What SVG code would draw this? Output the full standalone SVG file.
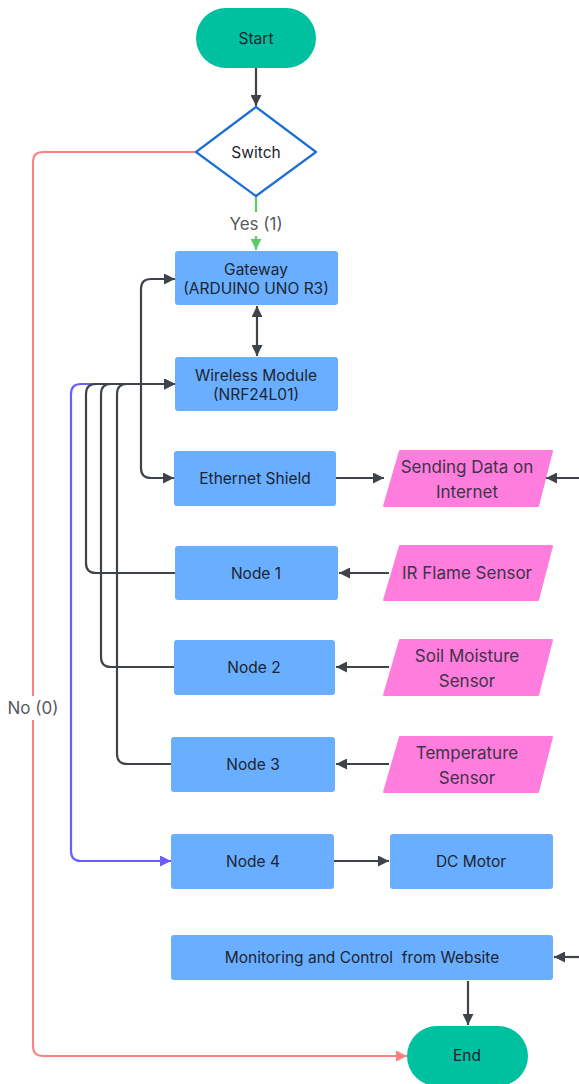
<svg xmlns="http://www.w3.org/2000/svg" width="579" height="1084" viewBox="0 0 579 1084">
<style>
.t{font-family:Inter,"Liberation Sans",sans-serif;font-size:15.5px;fill:#1c2530;text-anchor:middle}
.p{font-family:Inter,"Liberation Sans",sans-serif;font-size:17px;fill:#3d3349;text-anchor:middle}
.lb{font-family:Inter,"Liberation Sans",sans-serif;font-size:17px;fill:#555b63;text-anchor:middle}
.box{fill:#69AEFF}
.para{fill:#FF7DDC}
.term{fill:#00C19F}
.c{fill:none;stroke:#3f444b;stroke-width:2.2}
</style>
<defs>
<marker id="a" viewBox="0 0 10 10" refX="10" refY="5" markerWidth="11" markerHeight="11" markerUnits="userSpaceOnUse" orient="auto-start-reverse"><path d="M0,0L10,5L0,10z" fill="#3f444b"/></marker>
<marker id="ag" viewBox="0 0 10 10" refX="10" refY="5" markerWidth="11" markerHeight="11" markerUnits="userSpaceOnUse" orient="auto"><path d="M0,0L10,5L0,10z" fill="#5DCB6A"/></marker>
<marker id="ar" viewBox="0 0 10 10" refX="10" refY="5" markerWidth="11" markerHeight="11" markerUnits="userSpaceOnUse" orient="auto"><path d="M0,0L10,5L0,10z" fill="#FF8080"/></marker>
<marker id="ap" viewBox="0 0 10 10" refX="10" refY="5" markerWidth="11" markerHeight="11" markerUnits="userSpaceOnUse" orient="auto"><path d="M0,0L10,5L0,10z" fill="#6B5CFF"/></marker>
</defs>
<rect width="579" height="1084" fill="#ffffff"/>
<g id="connectors">
<path class="c" d="M256,68V106" marker-end="url(#a)"/>
<path d="M256,196V250" fill="none" stroke="#5DCB6A" stroke-width="2.2" marker-end="url(#ag)"/>
<rect x="224" y="212" width="64" height="24" fill="#ffffff"/>
<text class="lb" x="256" y="230">Yes (1)</text>
<path d="M196,152H43Q33,152 33,162V1046Q33,1056 43,1056H407" fill="none" stroke="#FF8080" stroke-width="2" marker-end="url(#ar)"/>
<rect x="3" y="696" width="60" height="24" fill="#ffffff"/>
<text class="lb" x="33" y="714">No (0)</text>
<path class="c" d="M257,306V356" marker-start="url(#a)" marker-end="url(#a)"/>
<path class="c" d="M175,279H151Q141,279 141,289V468Q141,478 151,478H174" marker-start="url(#a)" marker-end="url(#a)"/>
<path d="M95,384H81Q71,384 71,394V851Q71,861 81,861H171" fill="none" stroke="#6B5CFF" stroke-width="2.2" marker-end="url(#ap)"/>
<path class="c" d="M175,573H96Q86,573 86,563V394Q86,384 96,384H175" marker-end="url(#a)"/>
<path class="c" d="M174,667H111Q101,667 101,657V394Q101,384 111,384H175" marker-end="url(#a)"/>
<path class="c" d="M171,764H127Q117,764 117,754V394Q117,384 127,384H175" marker-end="url(#a)"/>
<path class="c" d="M336,478H384" marker-end="url(#a)"/>
<path class="c" d="M579,478H546" marker-end="url(#a)"/>
<path class="c" d="M389,573H339" marker-end="url(#a)"/>
<path class="c" d="M389,667H336" marker-end="url(#a)"/>
<path class="c" d="M389,764H336" marker-end="url(#a)"/>
<path class="c" d="M333,861H389" marker-end="url(#a)"/>
<path class="c" d="M579,957H554" marker-end="url(#a)"/>
<path class="c" d="M468,981V1025" marker-end="url(#a)"/>
</g>
<g id="start"><rect class="term" x="196" y="8" width="120" height="60" rx="30"/><text class="t" x="256" y="44">Start</text></g>
<g id="switch"><path d="M256,107L316,152L256,196L196,152Z" fill="#ffffff" stroke="#1E6FD9" stroke-width="2.2" stroke-linejoin="round"/><text class="t" x="256" y="158">Switch</text></g>
<g id="gateway"><rect class="box" x="175" y="251" width="163" height="54" rx="3"/><text class="t" x="256" y="275">Gateway</text><text class="t" x="256" y="294">(ARDUINO UNO R3)</text></g>
<g id="wireless"><rect class="box" x="175" y="357" width="163" height="54" rx="3"/><text class="t" x="256" y="381">Wireless Module</text><text class="t" x="256" y="400">(NRF24L01)</text></g>
<g id="ethernet"><rect class="box" x="174" y="451" width="162" height="55" rx="3"/><text class="t" x="255" y="484">Ethernet Shield</text></g>
<g id="sending"><path class="para" d="M400,451H552L538,506H384Z" stroke="#FF7DDC" stroke-width="2" stroke-linejoin="round"/><text class="p" x="467" y="473">Sending Data on</text><text class="p" x="467" y="498">Internet</text></g>
<g id="node1"><rect class="box" x="175" y="546" width="163" height="54" rx="3"/><text class="t" x="256" y="579">Node 1</text></g>
<g id="irflame"><path class="para" d="M400,546H552L538,600H384Z" stroke="#FF7DDC" stroke-width="2" stroke-linejoin="round"/><text class="p" x="467" y="579">IR Flame Sensor</text></g>
<g id="node2"><rect class="box" x="174" y="640" width="161" height="55" rx="3"/><text class="t" x="254" y="673">Node 2</text></g>
<g id="soil"><path class="para" d="M400,640H552L538,695H384Z" stroke="#FF7DDC" stroke-width="2" stroke-linejoin="round"/><text class="p" x="467" y="662">Soil Moisture</text><text class="p" x="467" y="687">Sensor</text></g>
<g id="node3"><rect class="box" x="171" y="737" width="164" height="55" rx="3"/><text class="t" x="253" y="770">Node 3</text></g>
<g id="temp"><path class="para" d="M400,737H552L538,792H384Z" stroke="#FF7DDC" stroke-width="2" stroke-linejoin="round"/><text class="p" x="467" y="759">Temperature</text><text class="p" x="467" y="784">Sensor</text></g>
<g id="node4"><rect class="box" x="171" y="834" width="163" height="55" rx="3"/><text class="t" x="253" y="867">Node 4</text></g>
<g id="dcmotor"><rect class="box" x="390" y="834" width="163" height="55" rx="3"/><text class="t" x="471" y="867">DC Motor</text></g>
<g id="monitoring"><rect class="box" x="171" y="935" width="382" height="45" rx="3"/><text class="t" x="362" y="963" xml:space="preserve">Monitoring and Control  from Website</text></g>
<g id="end"><rect class="term" x="407" y="1026" width="121" height="60" rx="30"/><text class="t" x="467" y="1061">End</text></g>
</svg>
